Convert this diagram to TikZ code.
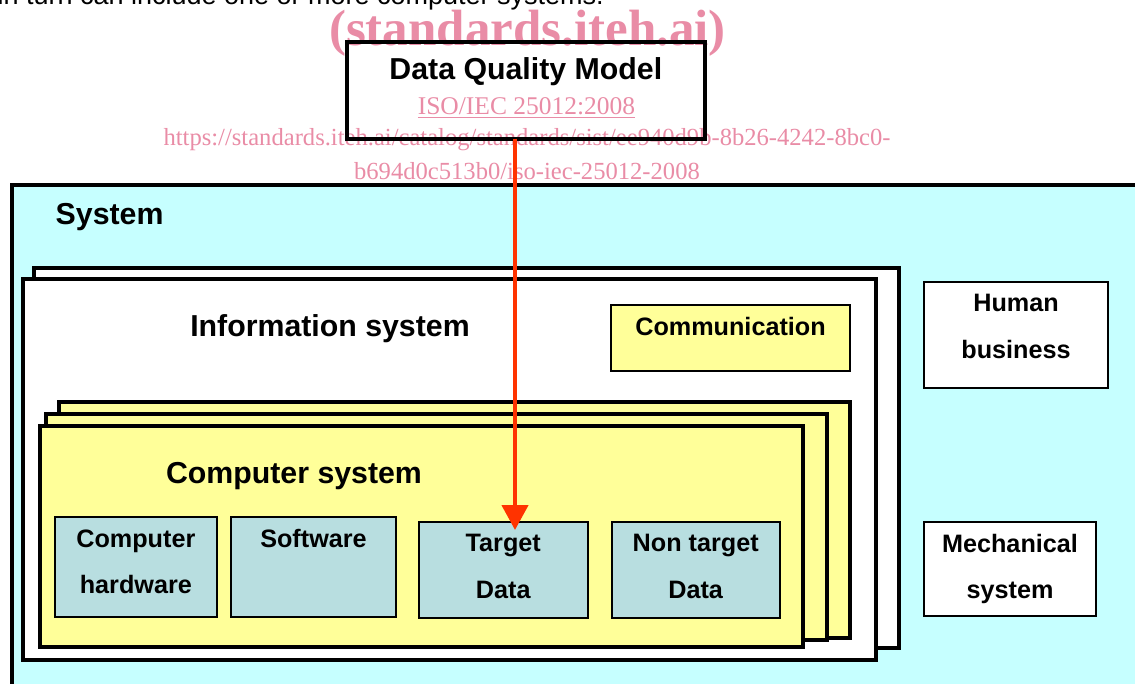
\documentclass[tikz,border=0pt]{standalone}
\usepackage{fontspec}
\setmainfont{Liberation Sans}
\newfontfamily\wmfont{Liberation Serif}
\usepackage{tikz}
\usetikzlibrary{arrows.meta}
\definecolor{syscyan}{HTML}{C6FFFF}
\definecolor{csyellow}{HTML}{FFFF99}
\definecolor{cellblue}{HTML}{B8DEE0}
\definecolor{wmpink}{HTML}{E98CA6}
\definecolor{arrowred}{HTML}{FF3300}

\begin{document}
\begin{tikzpicture}[x=1pt,y=-1pt,
    frame/.style={draw, line width=4pt, inner sep=0pt, outer sep=0pt, anchor=north west},
    cell/.style={draw, line width=2pt, inner sep=0pt, outer sep=0pt, anchor=north west},
    lbl/.style={font=\bfseries\fontsize{25.2}{46.7}\selectfont, align=center, anchor=base, inner sep=0pt, yshift=-30pt},
    lbltwo/.style={lbl, yshift=-46.7pt}, % base of a two line label is its last line
    title/.style={font=\bfseries\fontsize{30.3}{36}\selectfont, anchor=base, inner sep=0pt},
    wmark/.style={text=wmpink, inner sep=0pt, anchor=base}]
    \useasboundingbox (0,0) rectangle (1135,684);
    \clip (0,0) rectangle (1135,684);

    % Draw system frame
    \node[frame, fill=syscyan, minimum width=1200pt, minimum height=600pt] (system) at (12,185) {};
    \node[title, anchor=base west] (systitle) at (55.5,225) {System};

    % Information system (two stacked frames)
    \node[frame, fill=white, minimum width=865pt, minimum height=380pt] (infoback) at (34,268) {};
    \node[frame, fill=white, minimum width=853pt, minimum height=381pt] (infofront) at (23,279) {};
    \node[title] (infotitle) at (330,336.7) {Information system};
    \node[cell, fill=csyellow, minimum width=239pt, minimum height=66pt,
        label={[lbl, yshift=-1pt]north:Communication}] (comm) at (611,305) {};

    % Computer system (three stacked frames)
    \node[frame, fill=csyellow, minimum width=791.5pt, minimum height=235.5pt] (compback) at (58.5,402) {};
    \node[frame, fill=csyellow, minimum width=780.5pt, minimum height=226pt] (compmid) at (46,414) {};
    \node[frame, fill=csyellow, minimum width=763pt, minimum height=220.5pt] (compfront) at (40,426) {};
    \node[title] (comptitle) at (294,483) {Computer system};

    % Parts of the computer system
    \node[cell, fill=cellblue, minimum width=161.7pt, minimum height=100pt,
        label={[lbltwo]north:Computer\\hardware}] (hw) at (55,517) {};
    \node[cell, fill=cellblue, minimum width=165pt, minimum height=100pt,
        label={[lbl]north:Software}] (sw) at (231,517) {};
    \node[cell, fill=cellblue, minimum width=168.5pt, minimum height=95.8pt,
        label={[lbltwo]north:Target\\Data}] (tgt) at (419,521.7) {};
    \node[cell, fill=cellblue, minimum width=168.2pt, minimum height=95.8pt,
        label={[lbltwo]north:Non target\\Data}] (ntgt) at (611.6,521.7) {};

    % Other systems
    \node[cell, fill=white, minimum width=184pt, minimum height=106.5pt,
        label={[lbltwo]north:Human\\business}] (human) at (924,282) {};
    \node[cell, fill=white, minimum width=172pt, minimum height=94pt,
        label={[lbltwo]north:Mechanical\\system}] (mech) at (924,522) {};

    % Watermark texts
    \node[anchor=base east, inner sep=0pt, font=\fontsize{27}{32}\selectfont] (cuttext) at (604,5) {in turn can include one or more computer systems.};
    \node[wmark, font=\wmfont\bfseries\fontsize{51}{60}\selectfont] (wmtitle) at (527.5,46) {(standards.iteh.ai)};
    \node[wmark, font=\wmfont\fontsize{25.5}{30}\selectfont] (wmiso) at (526.5,115) {\underline{ISO/IEC 25012:2008}};
    \node[wmark, font=\wmfont\fontsize{24.6}{34}\selectfont, align=center] (wmurl) at (527,180)
        {https://standards.iteh.ai/catalog/standards/sist/ee940d9b-8b26-4242-8bc0-\\b694d0c513b0/iso-iec-25012-2008};

    % Data quality model and its arrow
    \node[frame, minimum width=357.7pt, minimum height=96.7pt,
        label={[title, yshift=-38pt]north:Data Quality Model}] (dqm) at (347,42) {};
    \coordinate (tip) at (515,530);
    \draw[arrowred, line width=4.5pt, -{Triangle[width=26pt,length=25pt]}] (dqm.south -| tip) -- (tip);
\end{tikzpicture}
\end{document}
